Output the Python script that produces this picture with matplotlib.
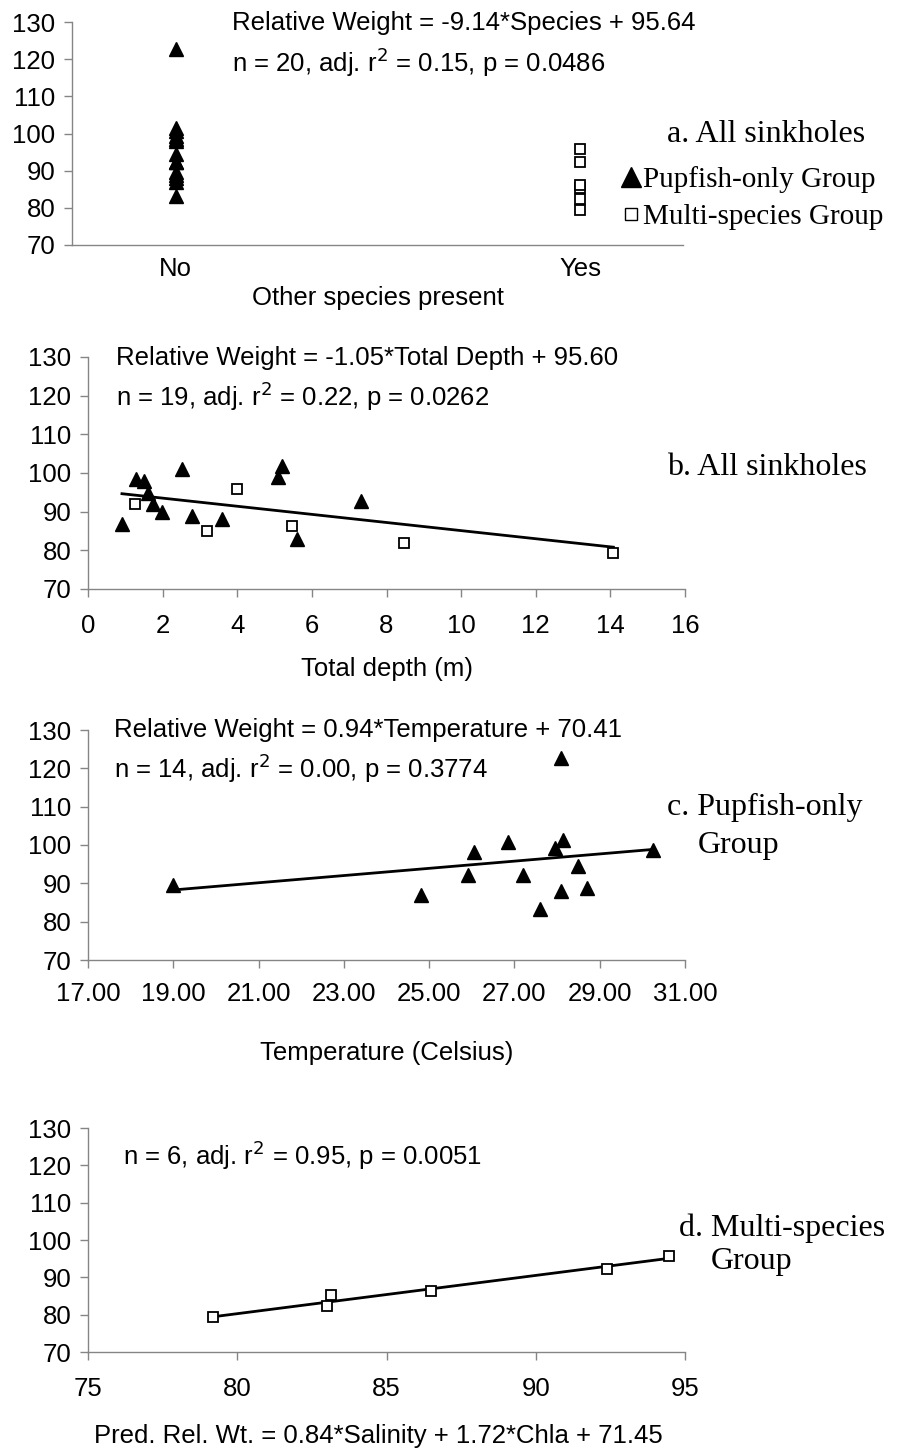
import matplotlib
matplotlib.use("Agg")
import matplotlib.pyplot as plt
from matplotlib.lines import Line2D
import numpy as np

# ---- data ----
# Pupfish-only group
pup_temp = [19.0, 24.8, 25.9, 26.05, 26.85, 27.2, 27.6, 27.95, 28.1, 28.15, 28.1, 28.5, 28.7, 30.25]
pup_rw = [89.6, 86.9, 92.3, 98.1, 100.8, 92.3, 83.3, 99.2, 122.7, 101.4, 88.0, 94.5, 88.9, 98.6]
pup_depth = [0.91, 1.28, 1.51, 1.62, 1.73, 1.99, 2.52, 2.79, 3.59, 5.10, 5.21, 5.59, 7.31]
pup_rw_depth = [86.9, 98.4, 98.0, 94.7, 92.0, 90.0, 101.1, 88.8, 88.0, 98.9, 101.7, 82.9, 92.7]

# Multi-species group
multi_depth = [1.26, 3.2, 4.0, 5.46, 8.46, 14.08]
multi_rw_depth = [92.0, 85.1, 95.8, 86.2, 82.0, 79.2]
multi_pred = [79.2, 83.0, 83.15, 86.5, 92.4, 94.45]
multi_rw = [79.3, 82.25, 85.4, 86.25, 92.25, 95.8]

species_labels = ["No", "Yes"]
rw_ticks = [70, 80, 90, 100, 110, 120, 130]

# regression coefficients reported on the panels
depth_slope, depth_icpt = -1.05, 95.60
temp_slope, temp_icpt = 0.94, 70.41

W, H = 897, 1449
fig = plt.figure(figsize=(W / 100, H / 100), dpi=100)

SANS = "Liberation Sans"
SERIF = "Liberation Serif"
AX_GRAY = "#858585"
FS = 18.5
FS_SERIF = 23


def px_axes(left, top, right, bottom):
    return fig.add_axes([left / W, 1 - bottom / H, (right - left) / W, (bottom - top) / H])


def style(ax):
    for s in ("top", "right"):
        ax.spines[s].set_visible(False)
    for s in ("left", "bottom"):
        ax.spines[s].set_color(AX_GRAY)
        ax.spines[s].set_linewidth(1.0)
    ax.tick_params(direction="out", length=6, width=1, color=AX_GRAY,
                   labelsize=FS, labelcolor="black", pad=6)
    ax.set_ylim(70, 130)
    ax.set_yticks(rw_ticks)
    for lab in ax.get_xticklabels() + ax.get_yticklabels():
        lab.set_fontfamily(SANS)


def ftext(x, y, s, **kw):
    kw.setdefault("family", SANS)
    kw.setdefault("fontsize", FS)
    kw.setdefault("va", "center")
    fig.text(x / W, 1 - y / H, s, **kw)


tri = dict(marker="^", color="black", ms=10, ls="none", zorder=3)
sq = dict(marker="s", mfc="white", mec="black", mew=1.3, ms=7.5, ls="none", zorder=3)

# ---- a. presence of other species ----
ax = px_axes(72, 22, 683, 245)
ax.plot(np.zeros(len(pup_rw)), pup_rw, **tri)
ax.plot(np.ones(len(multi_rw)), multi_rw, **sq)
ax.set_xlim(-0.257, 1.255)
ax.set_xticks([0, 1])
ax.set_xticklabels(species_labels)
style(ax)
ax.tick_params(axis="x", length=0, pad=9)
ax.set_xlabel("Other species present", family=SANS, fontsize=FS, labelpad=3)
ftext(232, 23, "Relative Weight = -9.14*Species + 95.64")
ftext(232, 62, "n = 20, adj. r$^2$ = 0.15, p = 0.0486")
ftext(667, 135, "a. All sinkholes", family=SERIF, fontsize=FS_SERIF)
handles = [Line2D([], [], marker="^", color="black", ls="none", ms=14),
           Line2D([], [], marker="s", mfc="white", mec="black", mew=1.0, ls="none", ms=8.5)]
fig.legend(handles, ["Pupfish-only Group", "Multi-species Group"],
           loc="center left", bbox_to_anchor=(621 / W, 1 - 198 / H), frameon=False,
           prop={"family": SERIF, "size": 21}, handlelength=0.7, handletextpad=0.05,
           labelspacing=0.38, borderpad=0, borderaxespad=0)

# ---- b. total depth ----
ax = px_axes(88, 357, 685, 589)
xs = np.array([min(pup_depth + multi_depth), max(pup_depth + multi_depth)])
ax.plot(xs, depth_icpt + depth_slope * xs, color="black", lw=2, zorder=2)
ax.plot(pup_depth, pup_rw_depth, **tri)
ax.plot(multi_depth, multi_rw_depth, **sq)
ax.set_xlim(0, 16)
ax.set_xticks(range(0, 17, 2))
style(ax)
ax.tick_params(axis="x", pad=12)
ax.set_xlabel("Total depth (m)", family=SANS, fontsize=FS, labelpad=14)
ftext(116, 358, "Relative Weight = -1.05*Total Depth + 95.60")
ftext(116, 396, "n = 19, adj. r$^2$ = 0.22, p = 0.0262")
ftext(667, 468, "b. All sinkholes", family=SERIF, fontsize=FS_SERIF)

# ---- c. temperature, pupfish-only ----
ax = px_axes(88, 730, 685, 960)
xs = np.array([min(pup_temp), max(pup_temp)])
ax.plot(xs, temp_icpt + temp_slope * xs, color="black", lw=2, zorder=2)
ax.plot(pup_temp, pup_rw, **tri)
ax.set_xlim(17, 31)
ax.set_xticks(range(17, 32, 2))
ax.set_xticklabels([f"{t:.2f}" for t in range(17, 32, 2)])
style(ax)
ax.tick_params(axis="x", pad=10)
ax.set_xlabel("Temperature (Celsius)", family=SANS, fontsize=FS, labelpad=25)
ftext(114, 730, "Relative Weight = 0.94*Temperature + 70.41")
ftext(114, 768, "n = 14, adj. r$^2$ = 0.00, p = 0.3774")
ftext(667, 807, "c. Pupfish-only", family=SERIF, fontsize=FS_SERIF)
ftext(698, 845, "Group", family=SERIF, fontsize=FS_SERIF)

# ---- d. predicted vs observed, multi-species ----
ax = px_axes(88, 1128, 685, 1352)
k, b = np.polyfit(multi_pred, multi_rw, 1)
xs = np.array([min(multi_pred), max(multi_pred)])
ax.plot(xs, k * xs + b, color="black", lw=2, zorder=2)
ax.plot(multi_pred, multi_rw, **sq)
ax.set_xlim(75, 95)
ax.set_xticks(range(75, 96, 5))
style(ax)
ax.tick_params(axis="x", pad=12)
ftext(123, 1155, "n = 6, adj. r$^2$ = 0.95, p = 0.0051")
ftext(679, 1228, "d. Multi-species", family=SERIF, fontsize=FS_SERIF)
ftext(711, 1262, "Group", family=SERIF, fontsize=FS_SERIF)
ftext(378, 1436, "Pred. Rel. Wt. = 0.84*Salinity + 1.72*Chla + 71.45", ha="center")

fig.savefig("out.png", dpi=100)
